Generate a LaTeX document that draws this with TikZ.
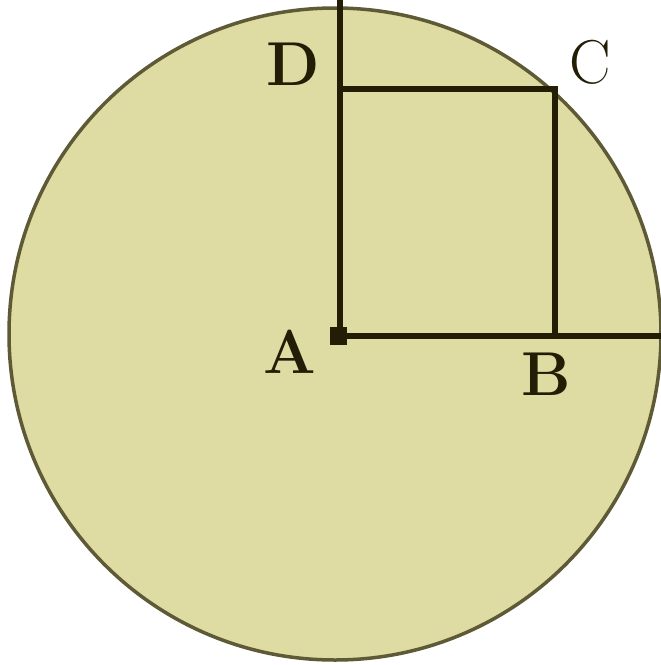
\documentclass[tikz,border=0pt]{standalone}
\definecolor{disk}{HTML}{DEDBA3}
\definecolor{rim}{HTML}{5E5A36}
\definecolor{ink}{HTML}{231D06}
\begin{document}
\begin{tikzpicture}[x=1pt,y=-1pt,
  lbl/.style={font=\fontsize{62}{66}\selectfont\bfseries, text=ink, inner sep=0pt},
  lbln/.style={font=\fontsize{62}{66}\selectfont, text=ink, inner sep=0pt},
  seg/.style={draw=ink, line width=6pt}]
\useasboundingbox (0,0) rectangle (661,665);
\fill[white] (0,0) rectangle (661,665);
\filldraw[fill=disk, draw=rim, line width=3.5pt] (335,334) circle[radius=326];
\coordinate (A) at (340,336);
\coordinate (B) at (555,336);
\coordinate (C) at (555,89);
\coordinate (D) at (340,89);
\coordinate (top) at (340,0);
\coordinate (right) at (661,336);
\draw[seg] (A) -- (top);
\draw[seg] (A) -- (right);
\draw[seg] (D) -- (C) -- (B);
\fill[ink] (330,327) rectangle (347,345);
\node[lbl] (lA) at (290,352) {A};
\node[lbl] (lB) at (546,374) {B};
\node[lbln] (lC) at (590,62) {C};
\node[lbl] (lD) at (293,64) {D};
\end{tikzpicture}
\end{document}
